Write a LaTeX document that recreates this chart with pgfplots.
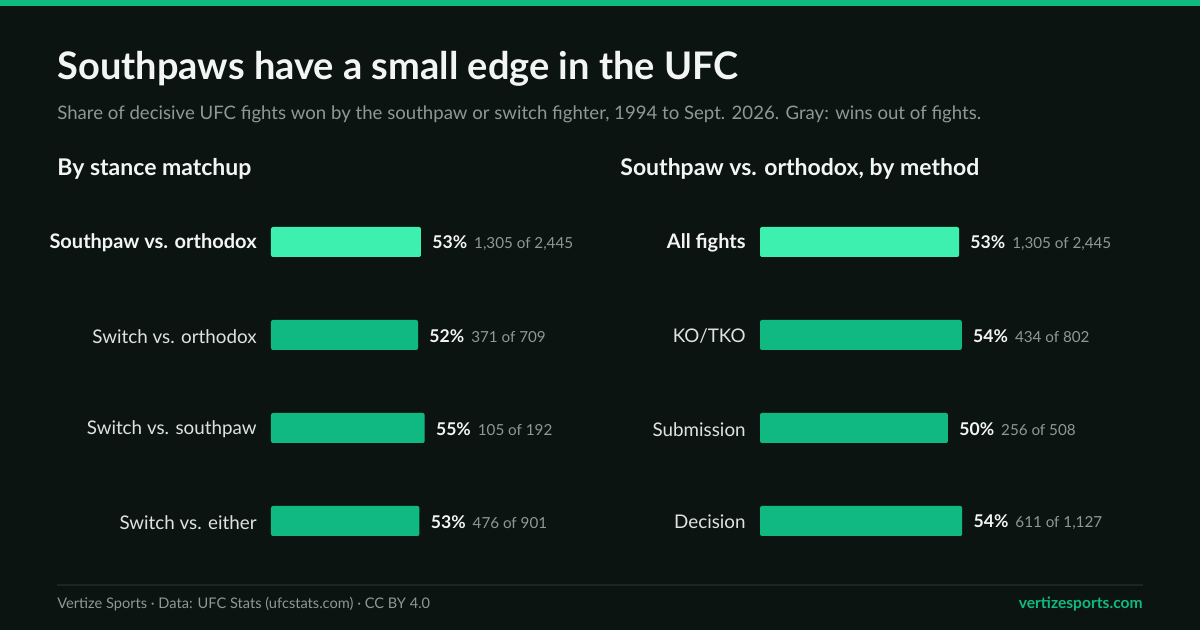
\documentclass[border=0pt]{standalone}
\usepackage{fontspec}
\setmainfont{Lato}
\usepackage{pgfplots}
\usepackage{pgfplotstable}
\pgfplotsset{compat=1.18}
\definecolor{bgdark}{HTML}{0C1412}
\definecolor{stripe}{HTML}{10B981}
\definecolor{barmain}{HTML}{10B981}
\definecolor{barhi}{HTML}{3EF0AF}
\definecolor{titlewhite}{HTML}{F2F5F4}
\definecolor{labelgray}{HTML}{DDE3E1}
\definecolor{subgray}{HTML}{8E9894}
\definecolor{rulegray}{HTML}{1C2523}

% value label: bold percent, then gray count
\newcommand{\lab}[2]{\textbf{#1\%}\hspace{3.5pt}{\color{subgray}\fontsize{7.6}{9}\selectfont #2}}

\pgfplotstableread[col sep=semicolon]{
pos;val;label
0;53.37;\lab{53}{1,305 of 2,445}
1;52.33;\lab{52}{371 of 709}
2;54.69;\lab{55}{105 of 192}
3;52.83;\lab{53}{476 of 901}
}\stancedata
\pgfplotstableread[col sep=semicolon]{
pos;val;label
0;53.37;\lab{53}{1,305 of 2,445}
1;54.11;\lab{54}{434 of 802}
2;50.39;\lab{50}{256 of 508}
3;54.21;\lab{54}{611 of 1,127}
}\methoddata

\pgfplotsset{
  panel/.style={
    scale only axis,
    anchor=north west,
    height=186pt,
    xmin=0, xmax=100,
    ymin=-0.5, ymax=3.5,
    y dir=reverse,
    axis line style={draw=none},
    xtick=\empty,
    ytick={0,1,2,3},
    major tick length=0pt,
    yticklabel style={font=\fontsize{9.4}{11}\selectfont, text=labelgray, inner sep=0pt, xshift=-7pt, yshift=-0.6pt},
    xbar, bar width=15pt, bar shift=0pt,
    clip=false,
    point meta=explicit symbolic,
    nodes near coords,
    nodes near coords style={anchor=west, inner sep=0pt, xshift=5.5pt, yshift=-0.6pt, text=titlewhite, font=\fontsize{8.8}{10}\selectfont},
  }
}

\begin{document}
\begin{tikzpicture}[x=1pt,y=1pt]
\path[use as bounding box] (0,0) rectangle (600,315);
\fill[bgdark] (0,0) rectangle (600,315);
\fill[stripe] (0,312) rectangle (600,315);

\node[anchor=base west, inner sep=0pt, text=titlewhite, font=\fontsize{19}{23}\selectfont\bfseries] at (28.5,275) {Southpaws have a small edge in the UFC};
\node[anchor=base west, inner sep=0pt, text=subgray, font=\fontsize{9.3}{11}\selectfont] at (28.5,255) {Share of decisive UFC fights won by the southpaw or switch fighter, 1994 to Sept. 2026. Gray: wins out of fights.};
\node[anchor=base west, inner sep=0pt, text=titlewhite, font=\fontsize{11.5}{13}\selectfont\bfseries] at (28.5,227) {By stance matchup};
\node[anchor=base west, inner sep=0pt, text=titlewhite, font=\fontsize{11.5}{13}\selectfont\bfseries] at (310,227) {Southpaw vs. orthodox, by method};

\begin{axis}[panel, at={(135.5pt,217.25pt)}, width=140.5pt,
  yticklabels={{\fontsize{10}{11}\selectfont\bfseries\color{titlewhite}Southpaw vs. orthodox}, Switch vs. orthodox, Switch vs. southpaw, Switch vs. either}]
\addplot[fill=barhi, draw=none, rounded corners=1pt] table[x=val, y=pos, meta=label, restrict expr to domain={\thisrow{pos}}{0:0}] {\stancedata};
\addplot[fill=barmain, draw=none, rounded corners=1pt] table[x=val, y=pos, meta=label, restrict expr to domain={\thisrow{pos}}{1:3}] {\stancedata};
\end{axis}

\begin{axis}[panel, at={(380pt,217.25pt)}, width=186.5pt,
  yticklabels={{\fontsize{10}{11}\selectfont\bfseries\color{titlewhite}All fights}, KO/TKO, Submission, Decision}]
\addplot[fill=barhi, draw=none, rounded corners=1pt] table[x=val, y=pos, meta=label, restrict expr to domain={\thisrow{pos}}{0:0}] {\methoddata};
\addplot[fill=barmain, draw=none, rounded corners=1pt] table[x=val, y=pos, meta=label, restrict expr to domain={\thisrow{pos}}{1:3}] {\methoddata};
\end{axis}

\draw[rulegray, line width=0.75pt] (28.5,22.5) -- (571.5,22.5);
\node[anchor=base west, inner sep=0pt, text=subgray, font=\fontsize{7.3}{9}\selectfont] at (28.5,10.5) {Vertize Sports · Data: UFC Stats (ufcstats.com) · CC BY 4.0};
\node[anchor=base east, inner sep=0pt, text=stripe, font=\fontsize{7.8}{9}\selectfont\bfseries] at (571.5,10.5) {vertizesports.com};
\end{tikzpicture}
\end{document}
